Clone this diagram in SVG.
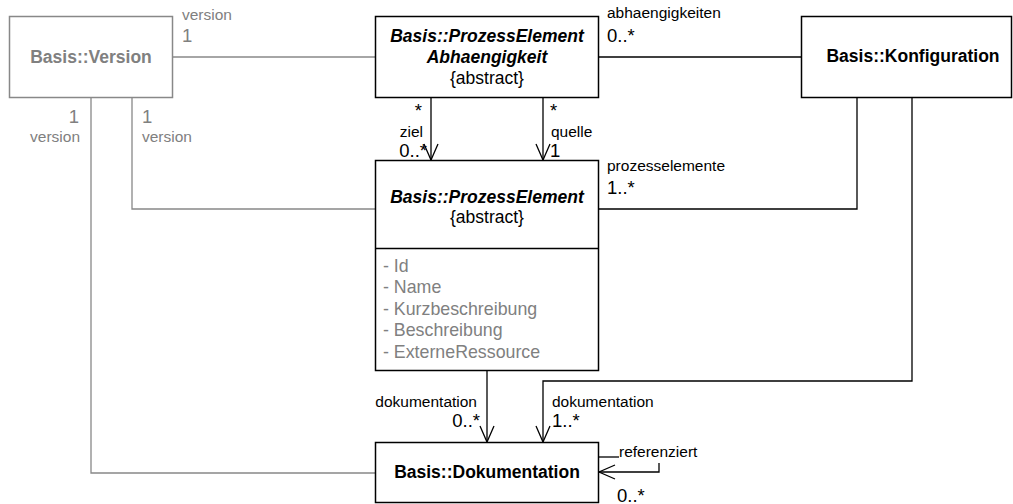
<svg xmlns="http://www.w3.org/2000/svg" width="1013" height="504" viewBox="0 0 1013 504">
<style>
.box{fill:#fff;stroke:#000;stroke-width:1.5}
.gbox{fill:#fff;stroke:#888;stroke-width:1.5}
.t{font-family:"Liberation Sans",Arial,sans-serif;fill:#000}
.title{font-size:17.5px;font-weight:bold;text-anchor:middle}
.it{font-style:italic}
.abs{font-size:17.5px;text-anchor:middle}
.attr{font-size:17.8px;fill:#808080}
.lbl{font-size:15.5px}
.mult{font-size:18.5px}
.gray{fill:#808080}
.end{text-anchor:end}
.ln{fill:none;stroke:#000;stroke-width:1.3}
.gln{fill:none;stroke:#888;stroke-width:1.3}
</style>
<defs>
<marker id="open" viewBox="0 0 18 16" refX="17" refY="8" markerWidth="18" markerHeight="16" markerUnits="userSpaceOnUse" orient="auto">
<path d="M1,1 L17,8 L1,15" fill="none" stroke="#000" stroke-width="1.3"/>
</marker>
</defs>
<g id="connectors">
<path class="gln" d="M173,57 H375"/>
<path class="ln" d="M599,57 H801"/>
<path class="ln" d="M431,97 V160" marker-end="url(#open)"/>
<path class="ln" d="M543,97 V160" marker-end="url(#open)"/>
<path class="gln" d="M132,97 V209 H375"/>
<path class="ln" d="M857,97 V209 H599"/>
<path class="gln" d="M91,97 V473 H375"/>
<path class="ln" d="M487,370 V442" marker-end="url(#open)"/>
<path class="ln" d="M912,97 V381 H543 V442" marker-end="url(#open)"/>
<path class="ln" d="M599,457 H619"/>
<path class="ln" d="M659,463 V472 H599" marker-end="url(#open)"/>
<text class="t lbl gray" x="182" y="20">version</text>
<text class="t mult gray" x="182" y="42">1</text>
<text class="t lbl" x="607" y="18">abhaengigkeiten</text>
<text class="t mult" x="607" y="42">0..*</text>
<text class="t mult end" x="422" y="117">*</text>
<text class="t lbl end" x="423" y="137">ziel</text>
<text class="t mult end" x="427" y="157">0..*</text>
<text class="t mult" x="550" y="117">*</text>
<text class="t lbl" x="551" y="137">quelle</text>
<text class="t mult" x="550" y="157">1</text>
<text class="t lbl" x="607" y="171">prozesselemente</text>
<text class="t mult" x="607" y="194">1..*</text>
<text class="t mult gray end" x="79" y="123">1</text>
<text class="t lbl gray end" x="80" y="142">version</text>
<text class="t mult gray" x="142" y="123">1</text>
<text class="t lbl gray" x="142" y="142">version</text>
<text class="t lbl end" x="477" y="407">dokumentation</text>
<text class="t mult end" x="480" y="427">0..*</text>
<text class="t lbl" x="552" y="407">dokumentation</text>
<text class="t mult" x="552" y="427">1..*</text>
<text class="t lbl" x="619" y="457">referenziert</text>
<text class="t mult" x="617" y="502">0..*</text>
</g>
<g id="version">
<rect class="gbox" x="9.5" y="16.5" width="163" height="81"/>
<text class="t title gray" x="91" y="63">Basis::Version</text>
</g>
<g id="abhaengigkeit">
<rect class="box" x="375.5" y="16.5" width="223" height="81"/>
<text class="t title it" x="487" y="42">Basis::ProzessElement</text>
<text class="t title it" x="487" y="63">Abhaengigkeit</text>
<text class="t abs" x="487" y="84">{abstract}</text>
</g>
<g id="konfiguration">
<rect class="box" x="801.5" y="16.5" width="210" height="81"/>
<text class="t title" x="913" y="62">Basis::Konfiguration</text>
</g>
<g id="prozesselement">
<rect class="box" x="375.5" y="160.5" width="223" height="210"/>
<line class="ln" x1="375.5" y1="248.5" x2="598.5" y2="248.5" style="stroke-width:1.5"/>
<text class="t title it" x="487" y="203">Basis::ProzessElement</text>
<text class="t abs" x="487" y="223">{abstract}</text>
<text class="t attr" x="383" y="272">- Id</text>
<text class="t attr" x="383" y="293">- Name</text>
<text class="t attr" x="383" y="315">- Kurzbeschreibung</text>
<text class="t attr" x="383" y="336">- Beschreibung</text>
<text class="t attr" x="383" y="358">- ExterneRessource</text>
</g>
<g id="dokumentation">
<rect class="box" x="375.5" y="442.5" width="223" height="60"/>
<text class="t title" x="487" y="478">Basis::Dokumentation</text>
</g>
</svg>
